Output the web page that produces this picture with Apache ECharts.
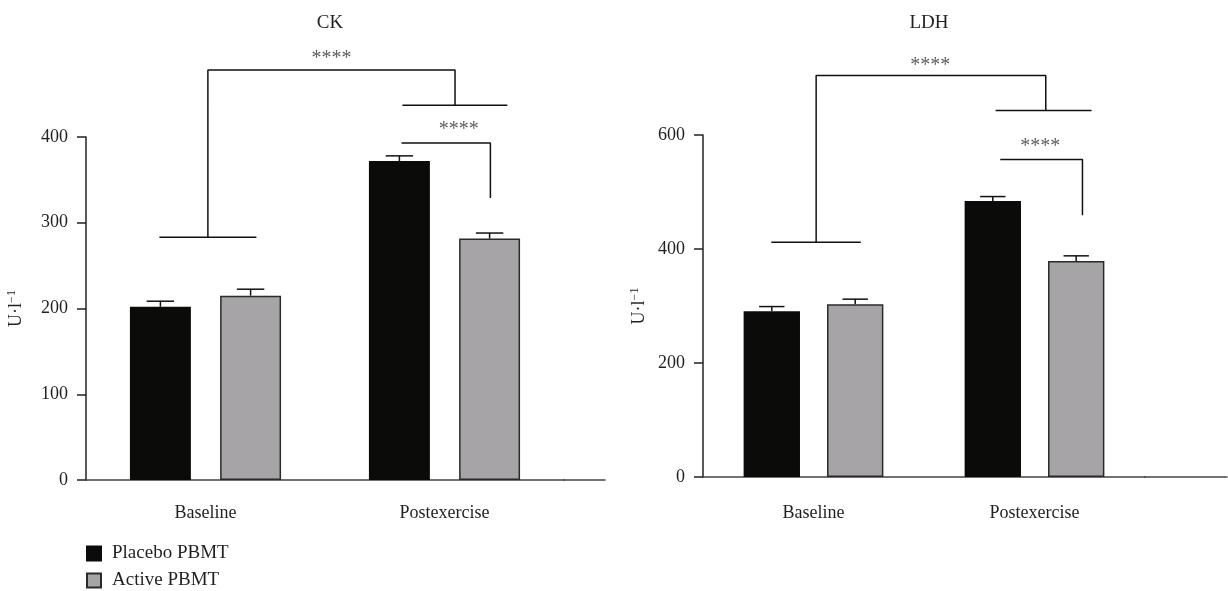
<!DOCTYPE html>
<html>
<head>
<meta charset="utf-8">
<script src="https://cdn.jsdelivr.net/npm/echarts@6/dist/echarts.min.js"></script>
<style>
html,body{margin:0;padding:0;background:#fff;}
#chart{width:1228px;height:591px;}
</style>
</head>
<body>
<div id="chart"></div>
<script>
// ---------- data ----------
const categories = ['Baseline', 'Postexercise'];
const seriesNames = ['Placebo PBMT', 'Active PBMT'];

const ckPlacebo = [202, 372];
const ckPlaceboErr = [6.5, 6];
const ckActive = [215, 281.5];
const ckActiveErr = [7.5, 6.5];

const ldhPlacebo = [291, 484];
const ldhPlaceboErr = [8, 8];
const ldhActive = [303, 379];
const ldhActiveErr = [9, 9];

const ckTicks = [0, 100, 200, 300, 400];
const ldhTicks = [0, 200, 400, 600];

// significance brackets (x in category units, y in data units)
const ckBrackets = [
  [[0.307, 283], [0.713, 283]],
  [[0.51, 283], [0.51, 478], [1.544, 478], [1.544, 437]],
  [[1.324, 437], [1.763, 437]],
  [[1.32, 393], [1.692, 393], [1.692, 329]]
];
const ckStars = [[1.027, 491, '****'], [1.56, 408, '****']];
const ckAxisExt = [2, 2.174];

const ldhBrackets = [
  [[0.309, 412], [0.714, 412]],
  [[0.512, 412], [0.512, 704.6], [1.551, 704.6], [1.551, 643]],
  [[1.324, 643], [1.758, 643]],
  [[1.345, 557], [1.717, 557], [1.717, 459]]
];
const ldhStars = [[1.028, 721, '****'], [1.526, 579, '****']];
const ldhAxisExt = [2, 2.373];

// ---------- styling ----------
const FONT = 'Liberation Serif';
const TXT = '#231f20';
const BAR_W = 0.255, BAR_GAP = 0.48, CAP = 0.45;
const colors = ['#0b0b09', '#a6a4a7'];

function errSeries(gridIdx, means, errs, sign) {
  return {
    type: 'custom',
    xAxisIndex: gridIdx * 2, yAxisIndex: gridIdx,
    z: 5, silent: true,
    data: means.map((m, i) => [i, m, errs[i]]),
    encode: { x: 0, y: 1 },
    renderItem: function (params, api) {
      const c = api.value(0), m = api.value(1), e = api.value(2);
      const base = api.coord([c, m]);
      const top = api.coord([c, m + e]);
      const band = api.size([1, 0])[0];
      const w = band * BAR_W;
      const x = base[0] + sign * (w + w * BAR_GAP) / 2;
      const cw = w * CAP;
      const st = { stroke: '#111', lineWidth: 1.5 };
      return {
        type: 'group',
        children: [
          { type: 'line', shape: { x1: x, y1: base[1], x2: x, y2: top[1] }, style: st },
          { type: 'line', shape: { x1: x - cw / 2, y1: top[1], x2: x + cw / 2, y2: top[1] }, style: st }
        ]
      };
    }
  };
}

function barSeries(gridIdx, name, vals, idx) {
  return {
    type: 'bar', name: name,
    xAxisIndex: gridIdx * 2, yAxisIndex: gridIdx,
    data: vals,
    barWidth: (BAR_W * 100) + '%',
    barGap: (BAR_GAP * 100) + '%',
    itemStyle: { color: colors[idx], borderColor: idx === 0 ? '#0b0b09' : '#2a2a2a', borderWidth: 1.5 },
    z: 3, silent: true
  };
}

function lineSeries(gridIdx, pts, color) {
  return {
    type: 'line', xAxisIndex: gridIdx * 2 + 1, yAxisIndex: gridIdx,
    data: pts, symbol: 'none', clip: false, silent: true, z: 4,
    lineStyle: { color: color || '#111', width: 1.5 }
  };
}

function starSeries(gridIdx, stars) {
  return {
    type: 'scatter', xAxisIndex: gridIdx * 2 + 1, yAxisIndex: gridIdx,
    data: stars.map(s => [s[0], s[1]]), symbolSize: 0, clip: false, silent: true,
    label: {
      show: true, position: 'inside',
      formatter: p => stars[p.dataIndex][2],
      fontFamily: FONT, fontSize: 20, color: '#333'
    }
  };
}

function catAxis(gridIdx) {
  return {
    type: 'category', gridIndex: gridIdx, data: categories,
    axisLine: { lineStyle: { color: '#444', width: 1.5 } },
    axisTick: { alignWithLabel: true, length: 10, lineStyle: { color: '#222', width: 1.5 } },
    axisLabel: { fontFamily: FONT, fontSize: 18, color: TXT, margin: gridIdx === 0 ? 24 : 27 }
  };
}
function hiddenAxis(gridIdx) {
  return { type: 'value', gridIndex: gridIdx, min: 0, max: 2, show: false };
}
function valAxis(gridIdx, ticks) {
  const max = ticks[ticks.length - 1];
  return {
    type: 'value', gridIndex: gridIdx, min: ticks[0], max: max, interval: ticks[1] - ticks[0],
    name: '{a|U·l}{b|−1}', nameLocation: 'middle', nameGap: gridIdx === 0 ? 60 : 54,
    nameTextStyle: {
      rich: {
        a: { fontFamily: FONT, fontSize: 18, color: TXT },
        b: { fontFamily: FONT, fontSize: 12, color: TXT, verticalAlign: 'top', padding: [0, 0, 8, 0] }
      }
    },
    axisLine: { show: true, lineStyle: { color: '#222', width: 1.5 } },
    axisTick: { show: true, length: 9, lineStyle: { color: '#222', width: 1.5 } },
    axisLabel: { fontFamily: FONT, fontSize: 18, color: TXT, margin: 18 },
    splitLine: { show: false }
  };
}

const option = {
  animation: false,
  backgroundColor: '#fff',
  title: [
    { text: 'CK', left: 325, top: 9, textAlign: 'center',
      textStyle: { fontFamily: FONT, fontSize: 19, fontWeight: 'normal', color: TXT } },
    { text: 'LDH', left: 924, top: 9, textAlign: 'center',
      textStyle: { fontFamily: FONT, fontSize: 19, fontWeight: 'normal', color: TXT } }
  ],
  legend: {
    data: seriesNames, orient: 'vertical', left: 81, top: 539, height: 60,
    itemWidth: 14, itemHeight: 14, itemGap: 8, icon: 'rect',
    textStyle: { fontFamily: FONT, fontSize: 19, lineHeight: 14, color: TXT, padding: [0, 0, 0, 6] }
  },
  grid: [
    { left: 86, width: 478, top: 137, height: 343, containLabel: false },
    { left: 703, width: 442, top: 135, height: 342, containLabel: false }
  ],
  xAxis: [catAxis(0), hiddenAxis(0), catAxis(1), hiddenAxis(1)],
  yAxis: [valAxis(0, ckTicks), valAxis(1, ldhTicks)],
  series: [
    barSeries(0, seriesNames[0], ckPlacebo, 0),
    barSeries(0, seriesNames[1], ckActive, 1),
    errSeries(0, ckPlacebo, ckPlaceboErr, -1),
    errSeries(0, ckActive, ckActiveErr, 1),
    barSeries(1, seriesNames[0], ldhPlacebo, 0),
    barSeries(1, seriesNames[1], ldhActive, 1),
    errSeries(1, ldhPlacebo, ldhPlaceboErr, -1),
    errSeries(1, ldhActive, ldhActiveErr, 1),
    ...ckBrackets.map(b => lineSeries(0, b)),
    ...ldhBrackets.map(b => lineSeries(1, b)),
    starSeries(0, ckStars),
    starSeries(1, ldhStars)
  ]
};

const chart = echarts.init(document.getElementById('chart'), null, { renderer: 'canvas' });
chart.setOption(option);

// extend the x-axis baselines past the plotting band (positions from the library's scales)
function extLine(gridIdx, ext) {
  const a = chart.convertToPixel({ xAxisIndex: gridIdx * 2 + 1, yAxisIndex: gridIdx }, [ext[0], 0]);
  const b = chart.convertToPixel({ xAxisIndex: gridIdx * 2 + 1, yAxisIndex: gridIdx }, [ext[1], 0]);
  const y = Math.round(a[1]);
  return {
    type: 'line', silent: true, z: 10,
    shape: { x1: a[0] - 1, y1: y, x2: b[0], y2: y },
    style: { stroke: '#444', lineWidth: 1.5 }
  };
}
chart.setOption({ graphic: [extLine(0, ckAxisExt), extLine(1, ldhAxisExt)] });
</script>
</body>
</html>
